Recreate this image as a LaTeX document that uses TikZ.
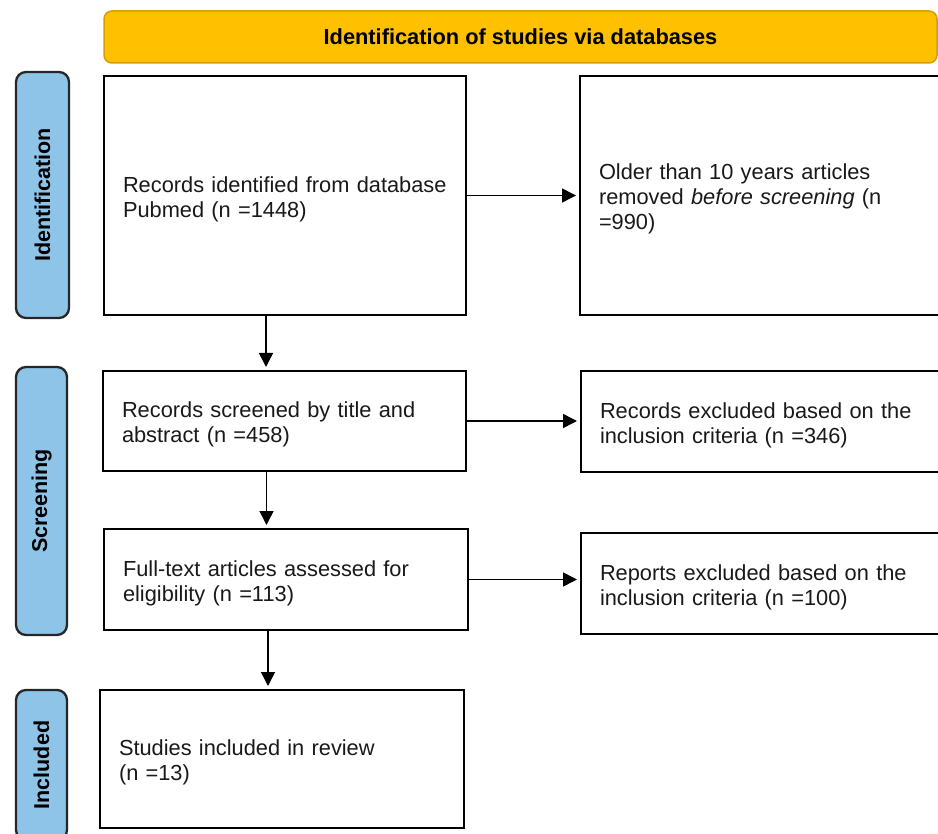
\documentclass[tikz,border=0pt]{standalone}
\usepackage{fontspec}
\setmainfont{Liberation Sans}
\usetikzlibrary{arrows.meta}
\definecolor{prismaY}{RGB}{255,192,0}
\definecolor{prismaYd}{RGB}{214,158,0}
\definecolor{prismaB}{RGB}{142,196,232}
\newcommand\boxpull{\endgraf\vspace{-7pt}}

\begin{document}
\begin{tikzpicture}[x=1pt,y=-1pt,>={Triangle[length=14pt,width=14pt]},
  box/.style={draw,line width=2pt,align=left,inner xsep=19pt,inner ysep=0pt,text=black!90,font=\fontsize{21.8}{25}\selectfont,execute at end node=\boxpull},
  phase/.style={draw=black!85,line width=2.3pt,fill=prismaB,rounded corners=10pt,rotate=90,inner sep=0pt,font=\fontsize{21.5}{25}\selectfont\bfseries},
  link/.style={->,line width=1.5pt,shorten >=3pt}]
\useasboundingbox (0,0) rectangle (938,834);
% banner and phase labels
\node[draw=prismaYd,line width=1.5pt,fill=prismaY,rounded corners=8pt,minimum width=833pt,minimum height=52pt,font=\fontsize{21.8}{25}\selectfont\bfseries] (head) at (520.5,37) {Identification of studies via databases};
\node[phase,minimum width=246pt,minimum height=53pt] (idf) at (42.5,195) {Identification};
\node[phase,minimum width=268pt,minimum height=51pt] (scr) at (41.5,501) {Screening};
\node[phase,minimum width=150pt,minimum height=51pt] (inc) at (41.5,765) {Included};
% main column
\node[box,text width=324pt,minimum height=239pt] (b1) at (285,195.5) {Records identified from database\\Pubmed (n =1448)};
\node[box,text width=325pt,minimum height=100pt] (b2) at (284.5,421) {Records screened by title and\\abstract (n =458)};
\node[box,text width=326pt,minimum height=101pt] (b3) at (286,579.5) {Full-text articles assessed for\\eligibility (n =113)};
\node[box,text width=326pt,minimum height=138pt] (b4) at (282,759) {Studies included in review\\(n =13)};
% exclusions
\node[box,text width=322pt,minimum height=239pt] (r1) at (760,195.5) {Older than 10 years articles\\removed \textit{before screening} (n\\=990)};
\node[box,text width=321pt,minimum height=101pt] (r2) at (760.5,421.5) {Records excluded based on the\\inclusion criteria (n =346)};
\node[box,text width=321pt,minimum height=101pt] (r3) at (760.5,583.5) {Reports excluded based on the\\inclusion criteria (n =100)};
% arrows
\draw[link] (b1.east) -- (r1.west);
\draw[link] (b2.east) -- (b2.east -| r2.west);
\draw[link] (b3.east) -- (b3.east -| r3.west);
\draw[link] ([xshift=-19pt]b1.south) -- ([xshift=-19pt]b1.south |- b2.north);
\draw[link] ([xshift=-18pt]b2.south) -- ([xshift=-18pt]b2.south |- b3.north);
\draw[link] ([xshift=-18pt]b3.south) -- ([xshift=-18pt]b3.south |- b4.north);
\end{tikzpicture}
\end{document}
